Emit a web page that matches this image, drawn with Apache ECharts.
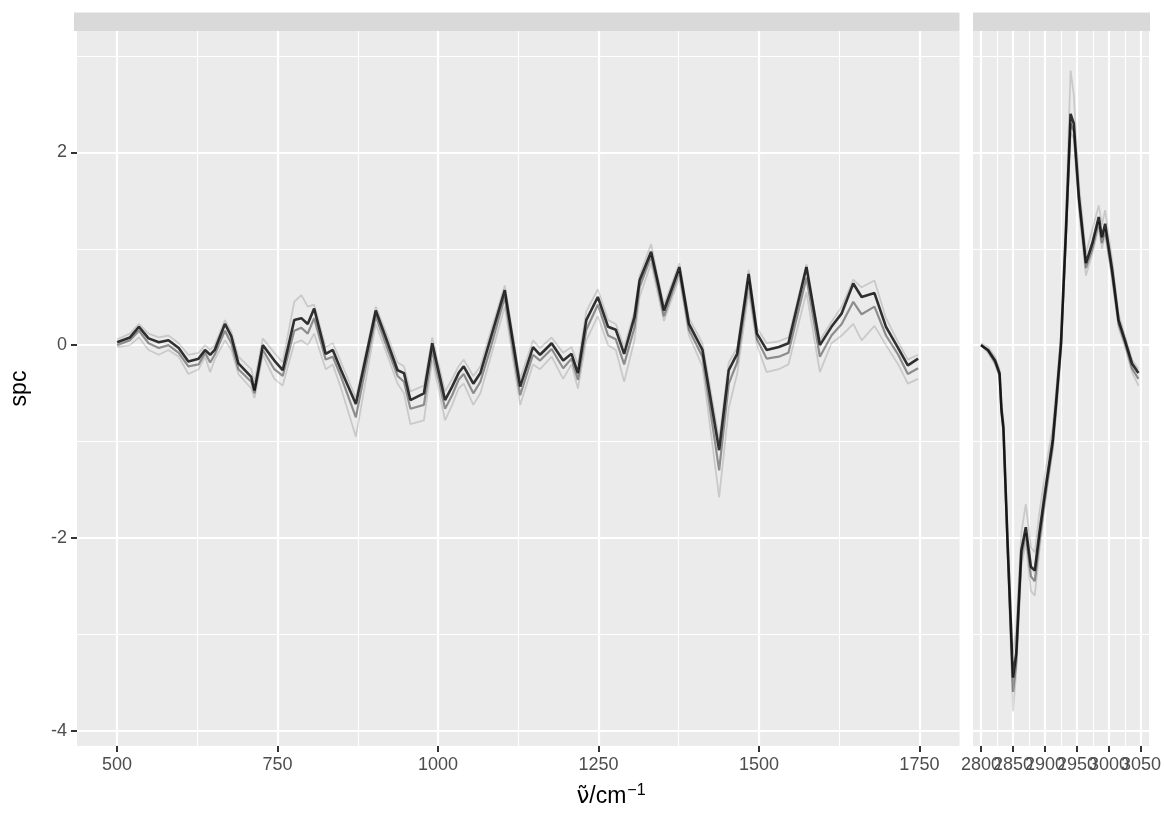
<!DOCTYPE html>
<html>
<head>
<meta charset="utf-8">
<script src="https://cdn.jsdelivr.net/npm/echarts@6/dist/echarts.min.js"></script>
<style>
  html, body { margin: 0; padding: 0; background: #fff; }
  #chart { width: 1164px; height: 814px; }
</style>
</head>
<body>
<div id="chart"></div>
<script>
// fingerprint region (left facet)
const fpWave = [500, 520, 534, 549, 565, 580, 596, 611, 627, 637, 645, 652, 668, 678, 689, 709, 714, 727, 745, 758,
  776, 787, 797, 807, 825, 836, 849, 872, 903, 918, 937, 947, 957, 978, 991, 1011, 1022, 1032, 1040, 1055,
  1066, 1081, 1104, 1128, 1148, 1159, 1177, 1195, 1208, 1218, 1231, 1249, 1265, 1277, 1290, 1306, 1314, 1332, 1342, 1352,
  1376, 1391, 1412, 1438, 1453, 1466, 1484, 1497, 1512, 1531, 1546, 1574, 1595, 1613, 1629, 1647, 1660, 1680, 1698, 1717,
  1732, 1748];
const fpMain = [0.03, 0.08, 0.19, 0.07, 0.03, 0.05, -0.03, -0.17, -0.14, -0.05, -0.10, -0.05, 0.22, 0.09, -0.19, -0.33, -0.47, 0.00, -0.16, -0.26,
  0.26, 0.28, 0.22, 0.38, -0.09, -0.05, -0.26, -0.61, 0.36, 0.09, -0.26, -0.29, -0.57, -0.50, 0.02, -0.57, -0.43, -0.29, -0.22, -0.40,
  -0.29, 0.05, 0.57, -0.43, -0.02, -0.10, 0.02, -0.16, -0.09, -0.29, 0.26, 0.50, 0.19, 0.16, -0.09, 0.29, 0.67, 0.97, 0.67, 0.36,
  0.81, 0.22, -0.05, -1.09, -0.26, -0.09, 0.74, 0.12, -0.05, -0.02, 0.02, 0.81, 0.00, 0.19, 0.33, 0.64, 0.50, 0.54, 0.19, -0.03,
  -0.21, -0.14];
const fpMid = [0.00, 0.05, 0.15, 0.02, -0.03, 0.00, -0.08, -0.22, -0.20, -0.08, -0.18, -0.10, 0.15, 0.02, -0.25, -0.38, -0.50, -0.05, -0.25, -0.32,
  0.15, 0.18, 0.12, 0.28, -0.15, -0.12, -0.33, -0.75, 0.30, 0.02, -0.32, -0.38, -0.66, -0.62, -0.06, -0.66, -0.52, -0.36, -0.30, -0.50,
  -0.38, -0.05, 0.50, -0.52, -0.10, -0.16, -0.04, -0.24, -0.14, -0.36, 0.16, 0.42, 0.10, 0.06, -0.20, 0.18, 0.60, 0.92, 0.62, 0.30,
  0.76, 0.16, -0.12, -1.30, -0.40, -0.18, 0.66, 0.06, -0.14, -0.12, -0.08, 0.70, -0.12, 0.10, 0.22, 0.45, 0.32, 0.40, 0.10, -0.10,
  -0.30, -0.24];
const fpLow = [-0.02, 0.00, 0.08, -0.05, -0.10, -0.05, -0.12, -0.30, -0.25, -0.12, -0.28, -0.15, 0.05, -0.05, -0.30, -0.45, -0.55, -0.10, -0.35, -0.42,
  0.02, 0.05, 0.00, 0.12, -0.25, -0.20, -0.45, -0.95, 0.22, -0.05, -0.40, -0.50, -0.82, -0.78, -0.15, -0.78, -0.62, -0.45, -0.40, -0.62,
  -0.50, -0.15, 0.40, -0.62, -0.20, -0.25, -0.12, -0.35, -0.20, -0.45, 0.05, 0.30, 0.00, -0.05, -0.38, 0.05, 0.50, 0.85, 0.55, 0.25,
  0.70, 0.10, -0.22, -1.58, -0.65, -0.30, 0.55, 0.00, -0.28, -0.25, -0.20, 0.55, -0.28, 0.02, 0.10, 0.22, 0.05, 0.20, 0.00, -0.20,
  -0.40, -0.35];
const fpHigh = [0.06, 0.12, 0.22, 0.12, 0.08, 0.10, 0.02, -0.10, -0.08, 0.00, -0.05, 0.00, 0.26, 0.14, -0.12, -0.25, -0.38, 0.07, -0.08, -0.18,
  0.45, 0.52, 0.40, 0.42, -0.02, 0.02, -0.18, -0.55, 0.40, 0.15, -0.18, -0.22, -0.48, -0.42, 0.08, -0.48, -0.35, -0.22, -0.15, -0.32,
  -0.22, 0.12, 0.62, -0.35, 0.05, -0.03, 0.08, -0.08, -0.02, -0.20, 0.35, 0.58, 0.26, 0.22, -0.02, 0.35, 0.72, 1.05, 0.72, 0.42,
  0.85, 0.28, 0.02, -0.98, -0.18, -0.03, 0.78, 0.18, 0.02, 0.04, 0.08, 0.84, 0.05, 0.24, 0.40, 0.68, 0.60, 0.67, 0.28, 0.03,
  -0.15, -0.10];

// CH stretching region (right facet)
const chWave = [2800, 2811, 2822, 2829, 2832, 2835, 2842, 2850, 2855, 2863, 2870, 2878, 2884, 2891, 2902, 2912,
  2917, 2925, 2933, 2940, 2945, 2953, 2964, 2974, 2984, 2989, 2994, 3005, 3015, 3025, 3036, 3046];
const chMain = [0.00, -0.05, -0.16, -0.29, -0.67, -0.85, -2.13, -3.45, -3.20, -2.13, -1.89, -2.30, -2.34, -1.96, -1.43, -0.99,
  -0.62, 0.02, 1.23, 2.40, 2.30, 1.54, 0.85, 1.06, 1.33, 1.12, 1.26, 0.78, 0.26, 0.05, -0.19, -0.29];
const chMid = [0.00, -0.06, -0.18, -0.31, -0.70, -0.88, -2.18, -3.60, -3.30, -2.20, -1.95, -2.40, -2.45, -2.05, -1.50, -1.05,
  -0.68, -0.03, 1.18, 2.30, 2.22, 1.48, 0.80, 1.00, 1.28, 1.06, 1.20, 0.72, 0.22, 0.02, -0.24, -0.35];
const chLow = [0.00, -0.08, -0.20, -0.33, -0.72, -0.92, -2.25, -3.80, -3.40, -2.30, -2.05, -2.55, -2.60, -2.15, -1.55, -1.10,
  -0.75, -0.10, 1.10, 2.20, 2.15, 1.40, 0.72, 0.95, 1.22, 1.00, 1.15, 0.68, 0.18, -0.02, -0.28, -0.42];
const chHigh = [0.02, -0.02, -0.12, -0.25, -0.60, -0.78, -2.00, -3.20, -2.95, -1.95, -1.65, -2.10, -2.15, -1.75, -1.25, -0.85,
  -0.50, 0.12, 1.40, 2.85, 2.60, 1.68, 0.95, 1.20, 1.45, 1.25, 1.40, 0.88, 0.32, 0.10, -0.15, -0.25];

// ticks / grid lines
const fpMajor = [500, 750, 1000, 1250, 1500, 1750];
const fpMinor = [625, 875, 1125, 1375, 1625];
const chMajor = [2800, 2850, 2900, 2950, 3000, 3050];
const chLabelsA = [2800, 2900, 3000];
const chLabelsB = [2850, 2950, 3050];
const chMinor = [2825, 2875, 2925, 2975, 3025];
const yMajor = [-4, -2, 0, 2];
const yMinor = [-3, -1, 1, 3];

const font = 'Liberation Sans, Arial, Helvetica, sans-serif';
const yMin = -4.16, yMax = 3.26;
const fpRange = [437.5, 1812.5];
const chRange = [2787.5, 3062.5];

function pairs(xs, ys) {
  return xs.map((x, i) => [x, ys[i]]);
}

function labelDef(show, values) {
  return {
    show: show, customValues: values, color: '#4D4D4D', fontSize: 18, fontFamily: font, margin: 10,
    hideOverlap: false, showMinLabel: true, showMaxLabel: true,
    formatter: v => String(v)
  };
}

// one x axis: tick / split positions and label positions can differ
function xAxisDef(gridIndex, range, tickValues, labelValues, ticks, split) {
  return {
    type: 'value', gridIndex: gridIndex, min: range[0], max: range[1], position: 'bottom',
    axisLine: { show: false, onZero: false },
    axisTick: { show: ticks, customValues: tickValues, length: 6, lineStyle: { color: '#333333', width: 2 } },
    axisLabel: labelDef(!!labelValues, labelValues || tickValues),
    splitLine: { show: split > 0, lineStyle: { color: '#FFFFFF', width: split || 1 } }
  };
}

function yAxisDef(gridIndex, values, major, labels) {
  return {
    type: 'value', gridIndex: gridIndex, min: yMin, max: yMax, position: 'left',
    axisLine: { show: false, onZero: false },
    axisTick: { show: labels, customValues: values, length: 6, lineStyle: { color: '#333333', width: 2 } },
    axisLabel: labelDef(labels, values),
    splitLine: { show: true, lineStyle: { color: '#FFFFFF', width: major ? 2.2 : 1.1 } }
  };
}

const lineStyles = [
  { c: 'rgba(0,0,0,0.14)', w: 1.8 },
  { c: 'rgba(0,0,0,0.14)', w: 1.8 },
  { c: 'rgba(0,0,0,0.4)', w: 2.2 },
  { c: 'rgba(0,0,0,0.8)', w: 2.6 }
];

function spectrumSeries(xs, list, gi) {
  return list.map((ys, k) => ({
    type: 'line', xAxisIndex: gi, yAxisIndex: gi,
    data: pairs(xs, ys), showSymbol: false, symbol: 'none',
    lineStyle: { color: lineStyles[k].c, width: lineStyles[k].w },
    z: 5 + k, silent: true
  }));
}

const chart = echarts.init(document.getElementById('chart'));

const option = {
  animation: false,
  backgroundColor: '#FFFFFF',
  grid: [
    { left: 74, top: 31, width: 885.5, height: 715, show: true, backgroundColor: '#EBEBEB', borderWidth: 0 },
    { left: 973, top: 31, width: 177, height: 715, show: true, backgroundColor: '#EBEBEB', borderWidth: 0 }
  ],
  xAxis: [
    xAxisDef(0, fpRange, fpMajor, fpMajor, true, 2.2),
    xAxisDef(1, chRange, chMajor, chLabelsA, true, 2.2),
    xAxisDef(0, fpRange, fpMinor, null, false, 1.1),
    xAxisDef(1, chRange, chMinor, null, false, 1.1),
    xAxisDef(1, chRange, chLabelsB, chLabelsB, false, 0)
  ],
  yAxis: [
    Object.assign(yAxisDef(0, yMajor, true, true), {
      name: 'spc', nameLocation: 'middle', nameGap: 46, nameRotate: 90,
      nameTextStyle: { color: '#000000', fontSize: 23, fontFamily: font }
    }),
    yAxisDef(1, yMajor, true, false),
    yAxisDef(0, yMinor, false, false),
    yAxisDef(1, yMinor, false, false)
  ],
  graphic: [
    { type: 'rect', shape: { x: 74, y: 12.5, width: 885.5, height: 18.5 }, style: { fill: '#D9D9D9' }, silent: true },
    { type: 'rect', shape: { x: 973, y: 12.5, width: 177, height: 18.5 }, style: { fill: '#D9D9D9' }, silent: true },
    {
      type: 'text', x: 611, y: 797, silent: true,
      style: {
        text: '{n|ν̃}{t|/cm}{s|−1}', align: 'center', verticalAlign: 'middle',
        rich: {
          n: { fontSize: 23, fontFamily: 'DejaVu Sans, sans-serif', fill: '#000000' },
          t: { fontSize: 23, fontFamily: font, fill: '#000000' },
          s: { fontSize: 16, fontFamily: font, fill: '#000000', padding: [0, 0, 12, 1] }
        }
      }
    }
  ],
  series: [].concat(
    spectrumSeries(fpWave, [fpLow, fpHigh, fpMid, fpMain], 0),
    spectrumSeries(chWave, [chLow, chHigh, chMid, chMain], 1)
  )
};

chart.setOption(option);
</script>
</body>
</html>
